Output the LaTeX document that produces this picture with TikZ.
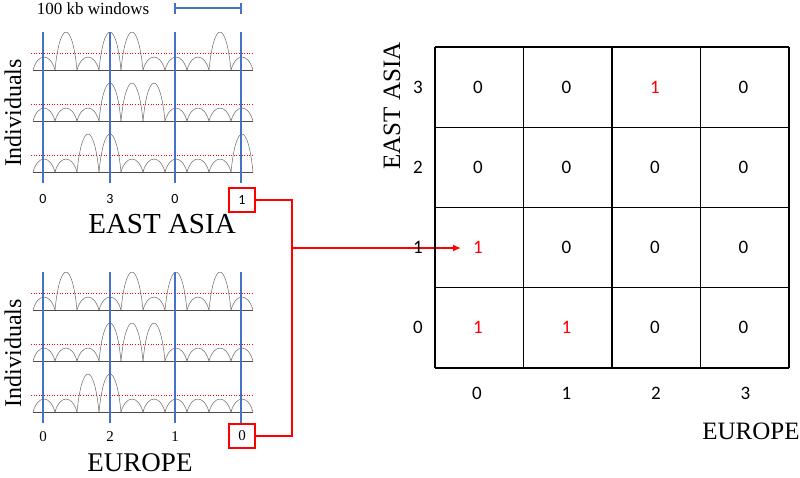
\documentclass[tikz,border=0pt]{standalone}
\usepackage{fontspec}
\usetikzlibrary{arrows.meta}
\setmainfont{Liberation Serif}
\newfontfamily\carlitofont{Carlito}
\definecolor{wblue}{RGB}{68,114,196}
\begin{document}
\begin{tikzpicture}[x=1pt,y=-1pt,
  bl/.style={draw=wblue,line width=1.2pt},
  rd/.style={draw=red,line width=2pt},
  cellnum/.style={font=\carlitofont\fontsize{19}{19}\selectfont},
  pnum/.style={font=\carlitofont\fontsize{14}{14}\selectfont},
  snum/.style={font=\fontsize{15}{15}\selectfont}]
\useasboundingbox (0,0) rectangle (800,477);
\newcommand\bumprow[2]{%
  \draw[red,dotted,line width=0.6pt] (31,#1-17) -- (254,#1-17);
  \foreach \hh [count=\i from 0] in {#2}{%
    \pgfmathsetmacro\xa{33+22*\i}
    \draw[gray!80!black,line width=0.5pt] (\xa,#1) .. controls (\xa+5,#1-1.33*\hh) and (\xa+17,#1-1.33*\hh) .. (\xa+22,#1);}
  \draw[gray!60!black,line width=1pt] (33,#1) -- (253,#1);}
% East Asia panel
\bumprow{70}{13,38,13,38,38,13,13,13,38,13}
\bumprow{121}{13,13,13,38,38,38,13,13,13,13}
\bumprow{172}{13,13,38,38,13,13,13,13,13,38}
\foreach \x in {43,110,175,241} \draw[bl] (\x,32) -- (\x,183);
\node[pnum] (e0) at (43,199) {0};
\node[pnum] (e1) at (110,199) {3};
\node[pnum] (e2) at (175,199) {0};
\node[pnum,draw=red,line width=2pt,minimum width=26pt,minimum height=24pt] (eb) at (242,200) {1};
\node[font=\fontsize{29}{29}\selectfont] (ea) at (162,224) {EAST ASIA};
\node[font=\fontsize{24}{24}\selectfont,rotate=90] (ind1) at (13,113) {Individuals};
\node[font=\fontsize{17}{17}\selectfont] (win) at (93,9) {100 kb windows};
\draw[bl] (175,3) -- (175,14) (175,8) -- (241,8) (241,3) -- (241,14);
% Europe panel
\bumprow{310}{13,38,13,13,38,13,38,13,38,13}
\bumprow{361}{13,13,13,38,38,38,13,13,13,13}
\bumprow{412}{13,13,38,38,13,13,13,13,13,13}
\foreach \x in {43,110,175,241} \draw[bl] (\x,272) -- (\x,423);
\node[snum] (u0) at (43,437) {0};
\node[snum] (u1) at (110,437) {2};
\node[snum] (u2) at (175,437) {1};
\node[snum,draw=red,line width=2pt,minimum width=26pt,minimum height=24pt] (ub) at (242,436) {0};
\node[font=\fontsize{27}{27}\selectfont] (eu) at (140,463) {EUROPE};
\node[font=\fontsize{24}{24}\selectfont,rotate=90] (ind2) at (13,353) {Individuals};
% connectors
\coordinate (j) at (292,248);
\coordinate (tgt) at (461,248);
\draw[rd] (eb.east) -| (j);
\draw[rd] (ub.east) -| (j);
\draw[rd,-{Latex[length=8pt,width=7pt]}] (j) -- (tgt);
% grid
\foreach \c in {0,...,4}{\draw[line width=1.3pt] (435+88.5*\c,47) -- (435+88.5*\c,368);}
\foreach \r in {0,...,4}{\draw[line width=1.3pt] (435,47+80.25*\r) -- (789,47+80.25*\r);}
\foreach \row/\a/\b/\cc/\d [count=\ri from 0] in {3/0/0/1/0,2/0/0/0/0,1/1/0/0/0,0/1/1/0/0}{
  \node[cellnum] (r\row) at (418,87+80.25*\ri) {\row};
  \foreach \v [count=\ci from 0] in {\a,\b,\cc,\d}{
    \ifnum\v=1 \node[cellnum,text=red] (c\row\ci) at (478+88.5*\ci,87+80.25*\ri) {\v};
    \else \node[cellnum] (c\row\ci) at (478+88.5*\ci,87+80.25*\ri) {\v};\fi}}
\foreach \c in {0,...,3}{\node[cellnum] (col\c) at (477+89.5*\c,393) {\c};}
\node[font=\fontsize{25}{25}\selectfont] (xl) at (751,431) {EUROPE};
\node[font=\fontsize{25}{25}\selectfont,rotate=90] (yl) at (392,106) {EAST ASIA};
\end{tikzpicture}
\end{document}
